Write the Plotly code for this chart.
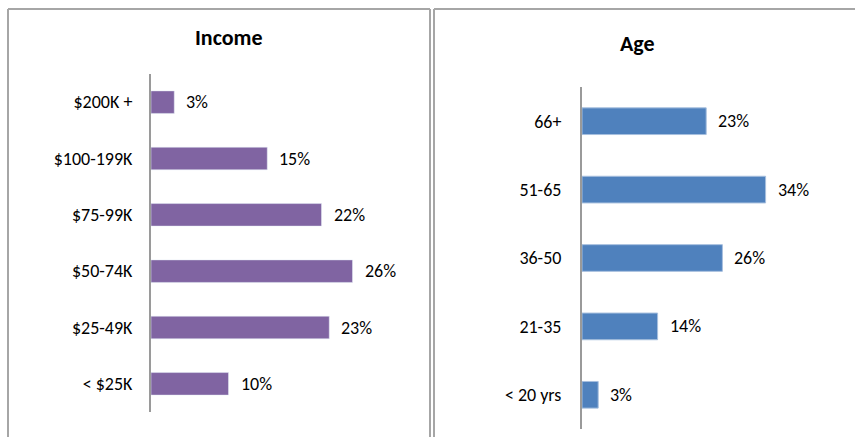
import plotly.graph_objects as go

income_categories = ["$200K +", "$100-199K", "$75-99K", "$50-74K", "$25-49K", "< $25K"]
income_values = [3, 15, 22, 26, 23, 10]

age_categories = ["66+", "51-65", "36-50", "21-35", "< 20 yrs"]
age_values = [23, 34, 26, 14, 3]

W, H = 855, 437
FONT = "Carlito, Calibri, Lato, sans-serif"
PURPLE = "#8064a2"
BLUE = "#4f81bd"
GRID = "#a6a6a6"
FS = 18


def px(x):
    return x / W


def py(y):
    return 1 - y / H


fig = go.Figure()
fig.add_trace(go.Bar(
    x=income_values, y=income_categories, orientation="h",
    marker=dict(color=PURPLE), width=0.4,
    xaxis="x", yaxis="y", hoverinfo="x+y", showlegend=False,
))
fig.add_trace(go.Bar(
    x=age_values, y=age_categories, orientation="h",
    marker=dict(color=BLUE, line=dict(color="#a7bfde", width=1)), width=0.39,
    xaxis="x2", yaxis="y2", hoverinfo="x+y", showlegend=False,
))

annotations = []
for v, c in zip(income_values, income_categories):
    annotations.append(dict(x=v, y=c, xref="x", yref="y", text=f"{v}%",
                            showarrow=False, xanchor="left", xshift=10,
                            font=dict(family=FONT, size=FS, color="#000")))
for v, c in zip(age_values, age_categories):
    annotations.append(dict(x=v, y=c, xref="x2", yref="y2", text=f"{v}%",
                            showarrow=False, xanchor="left", xshift=10,
                            font=dict(family=FONT, size=FS, color="#000")))

annotations.append(dict(x=px(229), y=py(38), xref="paper", yref="paper", text="<b>Income</b>",
                        showarrow=False, xanchor="center", yanchor="middle",
                        font=dict(family=FONT, size=22, color="#000")))
annotations.append(dict(x=px(637), y=py(43), xref="paper", yref="paper", text="<b>Age</b>",
                        showarrow=False, xanchor="center", yanchor="middle",
                        font=dict(family=FONT, size=22, color="#000")))

line = dict(color=GRID, width=2)
shapes = [
    dict(type="line", xref="paper", yref="paper", x0=px(8), x1=px(8), y0=py(9), y1=-0.1, line=line),
    dict(type="line", xref="paper", yref="paper", x0=px(8), x1=px(430), y0=py(9), y1=py(9), line=line),
    dict(type="line", xref="paper", yref="paper", x0=px(430), x1=px(430), y0=py(9), y1=-0.1, line=line),
    dict(type="line", xref="paper", yref="paper", x0=px(434), x1=px(434), y0=py(9), y1=-0.1, line=line),
    dict(type="line", xref="paper", yref="paper", x0=px(434), x1=1.1, y0=py(9), y1=py(9), line=line),
]

fig.update_layout(
    width=W, height=H,
    margin=dict(l=0, r=0, t=0, b=0),
    paper_bgcolor="white", plot_bgcolor="white",
    font=dict(family=FONT, size=FS, color="#000"),
    xaxis=dict(domain=[px(151), px(151 + 35 * 7.75)], range=[0, 35], visible=False, fixedrange=True),
    yaxis=dict(domain=[py(412), py(74)], range=[5.5, -0.5], type="category",
               categoryorder="array", categoryarray=income_categories,
               showline=True, linecolor="#9a9a9a", linewidth=2, showgrid=False,
               zeroline=False, ticks="", ticklabelstandoff=13,
               tickfont=dict(family=FONT, size=FS, color="#000"), anchor="x"),
    xaxis2=dict(domain=[px(582), px(582 + 45 * 5.4)], range=[0, 45], visible=False, fixedrange=True),
    yaxis2=dict(domain=[py(429), py(87)], range=[4.5, -0.5], type="category",
                categoryorder="array", categoryarray=age_categories,
                showline=True, linecolor="#9a9a9a", linewidth=2, showgrid=False,
                zeroline=False, ticks="", ticklabelstandoff=15,
                tickfont=dict(family=FONT, size=FS, color="#000"), anchor="x2"),
    annotations=annotations,
    shapes=shapes,
)

fig.write_html("out.html", config={"displayModeBar": False},
               post_script="document.body.style.margin='0';document.body.style.overflow='hidden';")
